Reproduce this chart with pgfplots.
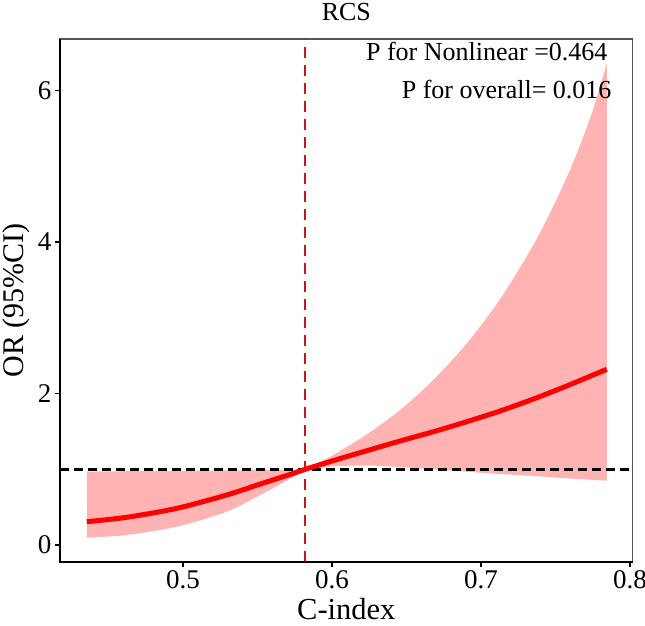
\documentclass[border=0pt]{standalone}
\usepackage{fontspec}
\setmainfont{Liberation Serif}
\usepackage{pgfplots}
\pgfplotsset{compat=1.18}
\usepgfplotslibrary{fillbetween}
\definecolor{band}{HTML}{FFB3B3}
\definecolor{vred}{HTML}{C8141E}
\definecolor{framegray}{HTML}{555555}
\begin{document}
\begin{tikzpicture}
\begin{axis}[
  scale only axis, width=572.7pt, height=522.7pt,
  xmin=0.4174, xmax=0.8018, ymin=-0.219, ymax=6.677,
  axis line style={framegray, line width=1.5pt},
  xtick={0.5,0.6,0.7,0.8}, ytick={0,2,4,6},
  xticklabels={0.5,0.6,0.7,0.8},
  yticklabels={0,2,4,6},
  tick align=outside, tick pos=left, major tick length=5pt,
  tick style={black, line width=1.5pt},
  ticklabel style={font=\fontsize{27}{30}\selectfont},
  /pgf/number format/assume math mode=true,
  clip=false,
]
\coordinate (ll) at (rel axis cs:0,0);
\coordinate (ur) at (rel axis cs:1,1);
\addplot[name path=U, draw=none, smooth, tension=0.5] coordinates {
 (0.4354,0.970) (0.4622,0.975) (0.4958,0.980) (0.5293,0.985) (0.5517,0.990) (0.5740,0.995) (0.5820,1.000)
 (0.6009,1.19) (0.6233,1.46) (0.6456,1.78) (0.6680,2.18) (0.6904,2.66) (0.7105,3.18) (0.7255,3.64)
 (0.7385,4.08) (0.7497,4.52) (0.7597,4.95) (0.7683,5.37) (0.7758,5.78) (0.7827,6.24) (0.7844,6.35)};
\addplot[name path=L, draw=none, smooth, tension=0.5] coordinates {
 (0.4354,0.098) (0.4622,0.133) (0.4958,0.243) (0.5293,0.441) (0.5517,0.661) (0.5740,0.900) (0.5820,1.000)
 (0.6009,1.040) (0.6233,1.050) (0.6456,1.030) (0.6680,1.000) (0.6904,0.968) (0.7128,0.938) (0.7351,0.912)
 (0.7575,0.881) (0.7844,0.850)};
\addplot[band, draw=none] fill between[of=U and L];
\addplot[black, line width=2.5pt, dash pattern=on 9pt off 5pt] coordinates {(0.4174,1) (0.8018,1)};
\addplot[vred, line width=2.5pt, dash pattern=on 11pt off 7pt] coordinates {(0.582,-0.219) (0.582,6.677)};
\addplot[red, line width=5pt, line cap=butt, smooth, tension=0.5] coordinates {
 (0.4354,0.309) (0.4622,0.367) (0.4958,0.485) (0.5293,0.661) (0.5517,0.805) (0.5740,0.946) (0.5820,1.000)
 (0.6009,1.115) (0.6233,1.245) (0.6456,1.373) (0.6680,1.496) (0.6904,1.628) (0.7128,1.769) (0.7351,1.927)
 (0.7575,2.099) (0.7844,2.320)};
\draw[black, line width=2.2pt] (rel axis cs:0,1) -- (rel axis cs:0,0) -- (rel axis cs:1,0);
\node[anchor=base east, font=\fontsize{26}{29}\selectfont, inner sep=0pt] at (rel axis cs:0.9563,0.9585) {P for Nonlinear =0.464};
\node[anchor=base east, font=\fontsize{26}{29}\selectfont, inner sep=0pt] at (rel axis cs:0.9633,0.8866) {P for overall= 0.016};
\node[anchor=base, font=\fontsize{26}{29}\selectfont, inner sep=0pt] at (rel axis cs:0.5,1.0348) {RCS};
\node[anchor=base, font=\fontsize{30.5}{33}\selectfont, inner sep=0pt] at (rel axis cs:0.5,-0.1115) {C-index};
\node[anchor=center, rotate=90, font=\fontsize{30}{33}\selectfont, inner sep=0pt] at (rel axis cs:-0.0756,0.5) {OR (95\%CI)};
\end{axis}
\pgfresetboundingbox
\path ([shift={(-60pt,-63.3pt)}]ll) rectangle ([shift={(12.3pt,39pt)}]ur);
\end{tikzpicture}
\end{document}
